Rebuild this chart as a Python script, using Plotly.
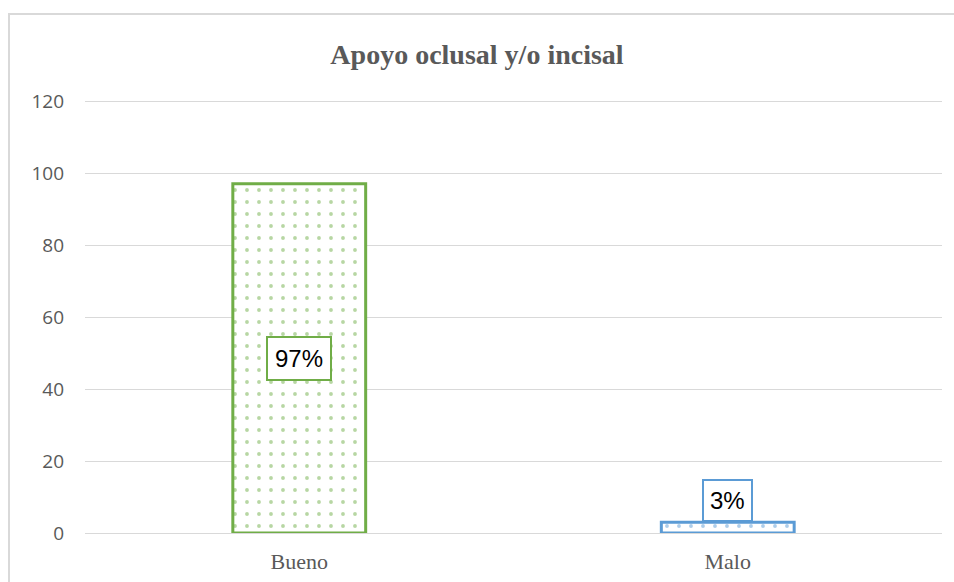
import plotly.graph_objects as go

categories = ["Bueno", "Malo"]
values = [97, 3]
labels = ["97%", "3%"]
colors = ["#70ad47", "#5b9bd5"]
title_text = "Apoyo oclusal y/o incisal"
y_ticks = [0, 20, 40, 60, 80, 100, 120]

W, H = 954, 582
ml, mr, mt, mb = 85, 12, 100, 49
pw, ph = W - ml - mr, H - mt - mb

fig = go.Figure()
for cat, val, col in zip(categories, values, colors):
    fig.add_trace(go.Bar(
        x=[cat], y=[val], width=0.31,
        marker=dict(color="white", line=dict(color=col, width=3),
                    pattern=dict(shape=".", fgcolor=col, bgcolor="white", size=12, solidity=0.08, fillmode="overlay")),
        showlegend=False, hoverinfo="skip",
    ))

# labels
fig.add_annotation(x=categories[0], y=values[0] / 2, text=labels[0], showarrow=False,
                   font=dict(family="Liberation Sans", size=24, color="black"),
                   bgcolor="white", bordercolor=colors[0], borderwidth=2, borderpad=7)
fig.add_annotation(x=categories[1], y=values[1], yanchor="bottom", text=labels[1], showarrow=False,
                   font=dict(family="Liberation Sans", size=24, color="black"),
                   bgcolor="white", bordercolor=colors[1], borderwidth=2, borderpad=6)

# chart border
fig.add_shape(type="rect", xref="paper", yref="paper",
              x0=(9 - ml) / pw, x1=(W + 20 - ml) / pw,
              y0=(mt + ph - (H + 20)) / ph, y1=(mt + ph - 14) / ph,
              line=dict(color="#d9d9d9", width=2), fillcolor="rgba(0,0,0,0)", layer="below")

fig.update_layout(
    width=W, height=H,
    margin=dict(l=ml, r=mr, t=mt, b=mb),
    paper_bgcolor="white", plot_bgcolor="white",
    title=dict(text="<b>" + title_text + "</b>", x=477 / W, xanchor="center", y=1 - 54 / H, yanchor="middle",
               font=dict(family="Liberation Serif", size=28, color="#595959")),
    yaxis=dict(range=[0, 120.3], tickvals=y_ticks, showgrid=True, gridcolor="#d9d9d9", gridwidth=1,
               zeroline=False, showline=False, ticks="", ticklen=0, ticklabelstandoff=20,
               tickfont=dict(family="Open Sans", size=19, color="#595959"), automargin=False),
    xaxis=dict(showgrid=False, showline=True, linecolor="#d9d9d9", linewidth=1, ticks="", ticklabelstandoff=9,
               tickfont=dict(family="Liberation Serif", size=22, color="#595959"), automargin=False),
)
fig.write_html("out.html")
